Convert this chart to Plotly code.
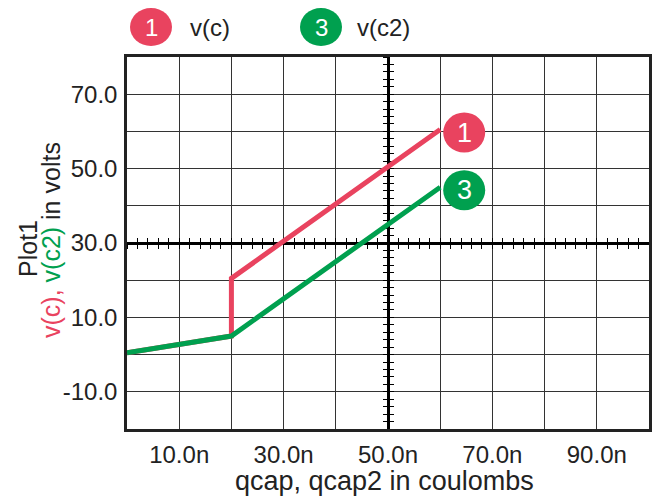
import plotly.graph_objects as go

# ---- data ----
q_c = [0.0, 20e-9, 20e-9, 60e-9]
v_c = [0.5, 5.0, 20.5, 60.5]
q_c2 = [0.0, 20e-9, 60e-9]
v_c2 = [0.5, 5.0, 45.0]

x_tickvals = [10e-9, 20e-9, 30e-9, 40e-9, 50e-9, 60e-9, 70e-9, 80e-9, 90e-9]
x_ticktext = ["10.0n", "", "30.0n", "", "50.0n", "", "70.0n", "", "90.0n"]
y_tickvals = [-10, 0, 10, 20, 30, 40, 50, 60, 70]
y_ticktext = ["-10.0", "", "10.0", "", "30.0", "", "50.0", "", "70.0"]

RED = "#e9435f"
GREEN = "#00a04f"
FONT = "Liberation Sans, Arial, sans-serif"
TXT = "#222222"

fig = go.Figure()
fig.add_trace(go.Scatter(x=q_c, y=v_c, mode="lines", line=dict(color=RED, width=5), name="v(c)"))
fig.add_trace(go.Scatter(x=q_c2, y=v_c2, mode="lines", line=dict(color=GREEN, width=5), name="v(c2)"))
# dummy traces for center axes
fig.add_trace(go.Scatter(x=[None], y=[None], xaxis="x2", yaxis="y2", showlegend=False))
fig.add_trace(go.Scatter(x=[None], y=[None], xaxis="x3", yaxis="y3", showlegend=False))

XR = [0, 100e-9]
YR = [-20, 80]

center_common = dict(showgrid=False, zeroline=False, showticklabels=False,
                     showline=True, linecolor="black", linewidth=2.5,
                     tickcolor="black", tickwidth=1.3, ticklen=4, layer="below traces")

fig.update_layout(
    width=652, height=498,
    margin=dict(l=127, r=0, t=57, b=69),
    paper_bgcolor="white", plot_bgcolor="white",
    showlegend=False,
    font=dict(family=FONT, size=24, color=TXT),
    xaxis=dict(range=XR, tickvals=x_tickvals, ticktext=x_ticktext, showgrid=True,
               gridcolor="#333333", gridwidth=1.4, zeroline=False, ticks="",
               showline=True, linecolor="#222", linewidth=2.5, mirror=True,
               tickfont=dict(size=24, color=TXT), ticklabelstandoff=2),
    yaxis=dict(range=YR, tickvals=y_tickvals, ticktext=y_ticktext, showgrid=True,
               gridcolor="#333333", gridwidth=1.4, zeroline=False, ticks="",
               showline=True, linecolor="#222", linewidth=2.5, mirror=True,
               tickfont=dict(size=24, color=TXT), ticklabelstandoff=2),
    xaxis2=dict(range=XR, overlaying="x", anchor="free", position=0.5, side="bottom",
                ticks="outside", tick0=0, dtick=2e-9, **center_common),
    yaxis2=dict(range=YR, overlaying="y", anchor="free", position=0.5, side="left",
                ticks="outside", tick0=0, dtick=2, **center_common),
    xaxis3=dict(range=XR, overlaying="x", anchor="free", position=0.5, side="bottom",
                ticks="inside", tick0=0, dtick=2e-9, **center_common),
    yaxis3=dict(range=YR, overlaying="y", anchor="free", position=0.5, side="left",
                ticks="inside", tick0=0, dtick=2, **center_common),
)

shapes = []
annotations = []

# top legend
for color, num, label, cx, lx in [(RED, "1", "v(c)", 24, 61), (GREEN, "3", "v(c2)", 194, 228)]:
    shapes.append(dict(type="circle", xref="paper", yref="paper", xsizemode="pixel", ysizemode="pixel",
                       xanchor=0, yanchor=1, x0=cx - 21, x1=cx + 21, y0=30 - 19, y1=30 + 19,
                       fillcolor=color, line=dict(width=0)))
    annotations.append(dict(xref="paper", yref="paper", x=0, y=1, xshift=cx, yshift=30,
                            text=num, showarrow=False, xanchor="center", yanchor="middle",
                            font=dict(size=24, color="white", family=FONT)))
    annotations.append(dict(xref="paper", yref="paper", x=0, y=1, xshift=lx, yshift=30,
                            text=label, showarrow=False, xanchor="left", yanchor="middle",
                            font=dict(size=24, color=TXT, family=FONT)))

# end-of-line labels
for color, num, xs, ys in [(RED, "1", q_c, v_c), (GREEN, "3", q_c2, v_c2)]:
    shapes.append(dict(type="circle", xref="x", yref="y", xsizemode="pixel", ysizemode="pixel",
                       xanchor=xs[-1], yanchor=ys[-1], x0=24 - 21, x1=24 + 21, y0=-3 - 20, y1=-3 + 20,
                       fillcolor=color, line=dict(width=0)))
    annotations.append(dict(xref="x", yref="y", x=xs[-1], y=ys[-1], xshift=24, yshift=-3,
                            text=num, showarrow=False, xanchor="center", yanchor="middle",
                            font=dict(size=27, color="white", family=FONT)))

# axis titles
annotations.append(dict(xref="paper", yref="paper", x=0.5, y=0, xshift=-4, yshift=-69,
                        text="qcap, qcap2 in coulombs", showarrow=False,
                        xanchor="center", yanchor="bottom", font=dict(size=27, color=TXT, family=FONT)))
annotations.append(dict(xref="paper", yref="paper", x=0, y=0.5, xshift=-99, yshift=-6,
                        text="Plot1", showarrow=False, textangle=-90,
                        xanchor="center", yanchor="middle", font=dict(size=25, color=TXT, family=FONT)))
annotations.append(dict(xref="paper", yref="paper", x=0, y=0.5, xshift=-76, yshift=3,
                        text=f"<span style='color:{RED}'>v(c),</span> <span style='color:{GREEN}'>v(c2)</span> in volts",
                        showarrow=False, textangle=-90,
                        xanchor="center", yanchor="middle", font=dict(size=25, color=TXT, family=FONT)))

fig.update_layout(shapes=shapes, annotations=annotations)
fig.write_html("out.html", config={"displayModeBar": False},
               post_script="document.body.style.margin='0';document.body.style.overflow='hidden';")
